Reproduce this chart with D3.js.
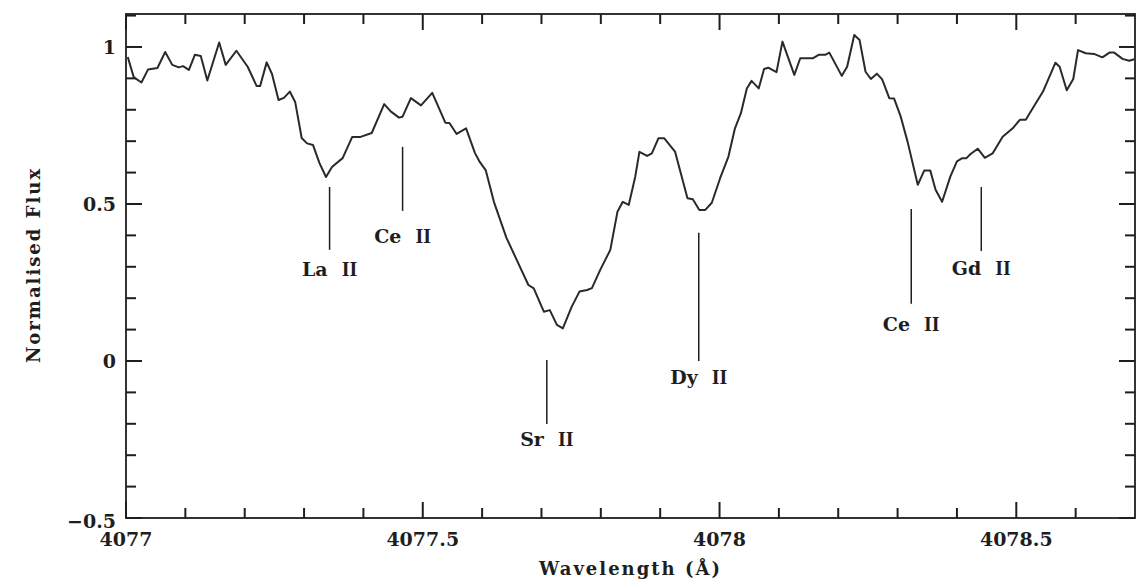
<!DOCTYPE html>
<html>
<head>
<meta charset="utf-8">
<script src="https://cdn.jsdelivr.net/npm/d3@7"></script>
<style>
  html, body { margin: 0; padding: 0; background: #fff; }
  svg { display: block; }
</style>
</head>
<body>
<svg id="chart" width="1143" height="580"></svg>
<script>
// ---- data ----
const wavelength = [
  4077.003, 4077.013, 4077.026, 4077.037, 4077.053, 4077.066, 4077.078, 4077.089, 4077.096, 4077.106,
  4077.116, 4077.126, 4077.137, 4077.157, 4077.168, 4077.186, 4077.205, 4077.220, 4077.226, 4077.237,
  4077.246, 4077.257, 4077.266, 4077.276, 4077.285, 4077.296, 4077.305, 4077.315, 4077.326, 4077.337,
  4077.347, 4077.365, 4077.381, 4077.394, 4077.414, 4077.435, 4077.446, 4077.460, 4077.466, 4077.480,
  4077.497, 4077.516, 4077.538, 4077.545, 4077.557, 4077.573, 4077.588, 4077.596, 4077.606, 4077.620,
  4077.641, 4077.660, 4077.678, 4077.687, 4077.704, 4077.714, 4077.726, 4077.736, 4077.751, 4077.764,
  4077.777, 4077.785, 4077.799, 4077.816, 4077.828, 4077.837, 4077.847, 4077.858, 4077.865, 4077.878,
  4077.886, 4077.897, 4077.907, 4077.925, 4077.946, 4077.955, 4077.966, 4077.976, 4077.987, 4078.001,
  4078.015, 4078.026, 4078.036, 4078.046, 4078.054, 4078.066, 4078.075, 4078.082, 4078.096, 4078.106,
  4078.126, 4078.136, 4078.157, 4078.167, 4078.178, 4078.185, 4078.206, 4078.215, 4078.227, 4078.236,
  4078.246, 4078.255, 4078.265, 4078.274, 4078.286, 4078.294, 4078.305, 4078.317, 4078.334, 4078.345,
  4078.355, 4078.364, 4078.375, 4078.389, 4078.400, 4078.409, 4078.416, 4078.423, 4078.435, 4078.447,
  4078.460, 4078.477, 4078.494, 4078.506, 4078.516, 4078.530, 4078.545, 4078.566, 4078.573, 4078.585,
  4078.596, 4078.604, 4078.617, 4078.631, 4078.645, 4078.657, 4078.665, 4078.679, 4078.690, 4078.699
];
const flux = [
  0.968, 0.904, 0.887, 0.928, 0.933, 0.984, 0.943, 0.935, 0.939, 0.927,
  0.975, 0.971, 0.893, 1.014, 0.943, 0.988, 0.937, 0.876, 0.876, 0.951,
  0.914, 0.831, 0.838, 0.858, 0.825, 0.710, 0.693, 0.688, 0.630, 0.586,
  0.618, 0.646, 0.713, 0.713, 0.726, 0.818, 0.795, 0.775, 0.778, 0.837,
  0.814, 0.854, 0.759, 0.758, 0.723, 0.741, 0.662, 0.634, 0.608, 0.506,
  0.392, 0.315, 0.242, 0.231, 0.157, 0.162, 0.115, 0.104, 0.173, 0.221,
  0.226, 0.232, 0.290, 0.354, 0.475, 0.507, 0.497, 0.587, 0.666, 0.653,
  0.661, 0.709, 0.709, 0.667, 0.518, 0.515, 0.481, 0.481, 0.504, 0.582,
  0.651, 0.741, 0.789, 0.868, 0.892, 0.868, 0.930, 0.934, 0.920, 1.017,
  0.911, 0.964, 0.964, 0.975, 0.975, 0.982, 0.908, 0.937, 1.038, 1.022,
  0.921, 0.898, 0.915, 0.897, 0.837, 0.836, 0.780, 0.697, 0.561, 0.607,
  0.607, 0.545, 0.507, 0.588, 0.636, 0.646, 0.646, 0.659, 0.676, 0.647,
  0.661, 0.714, 0.741, 0.768, 0.768, 0.812, 0.858, 0.950, 0.937, 0.862,
  0.898, 0.990, 0.980, 0.978, 0.967, 0.982, 0.982, 0.962, 0.956, 0.961
];

// line identifications
const ionElement = ["La", "Ce", "Sr", "Dy", "Ce", "Gd"];
const ionStage   = ["II", "II", "II", "II", "II", "II"];
const ionWave    = [4077.343, 4077.466, 4077.709, 4077.965, 4078.323, 4078.441];
const markTop    = [0.554, 0.682, 0.003, 0.408, 0.484, 0.554];
const markBottom = [0.354, 0.478, -0.201, 0.000, 0.182, 0.350];
const labelFlux  = [0.290, 0.395, -0.252, -0.054, 0.115, 0.293];

const xMajorTicks = [4077, 4077.5, 4078, 4078.5];
const xTickLabels = ["4077", "4077.5", "4078", "4078.5"];
const xMinorTicks = [4077.1, 4077.2, 4077.3, 4077.4, 4077.6, 4077.7, 4077.8, 4077.9, 4078.1, 4078.2, 4078.3, 4078.4, 4078.6];
const yMajorTicks = [-0.5, 0, 0.5, 1];
const yTickLabels = ["\u22120.5", "0", "0.5", "1"];
const yMinorTicks = [-0.4, -0.3, -0.2, -0.1, 0.1, 0.2, 0.3, 0.4, 0.6, 0.7, 0.8, 0.9, 1.1];
const xDomain = [4077, 4078.7];
const yDomain = [-0.5, 1.105];
const xLabel = "Wavelength (\u00c5)";
const yLabel = "Normalised Flux";

// ---- layout ----
const svg = d3.select("#chart");
const L = 126, R = 1135, T = 14, B = 518;
const x = d3.scaleLinear().domain(xDomain).range([L, R]);
const y = d3.scaleLinear().domain(yDomain).range([B, T]);
const ink = "#1e1e1e";
const MAJ = 16, MIN = 10;

// frame
svg.append("rect").attr("x", L).attr("y", T).attr("width", R - L).attr("height", B - T)
  .attr("fill", "none").attr("stroke", ink).attr("stroke-width", 1.8);

// ticks (inward, all four sides)
const tickG = svg.append("g");
function seg(x1, y1, x2, y2) {
  tickG.append("line")
    .attr("x1", x1).attr("y1", y1).attr("x2", x2).attr("y2", y2)
    .attr("stroke", ink).attr("stroke-width", 2);
}
xMajorTicks.forEach(v => { seg(x(v), B, x(v), B - MAJ); seg(x(v), T, x(v), T + MAJ); });
xMinorTicks.forEach(v => { seg(x(v), B, x(v), B - MIN); seg(x(v), T, x(v), T + MIN); });
yMajorTicks.forEach(v => { seg(L, y(v), L + MAJ, y(v)); seg(R, y(v), R - MAJ, y(v)); });
yMinorTicks.filter(v => v <= yDomain[1]).forEach(v => { seg(L, y(v), L + MIN, y(v)); seg(R, y(v), R - MIN, y(v)); });

// tick labels
const tickFamily = "'DejaVu Serif', serif";
svg.append("g").selectAll("text").data(xMajorTicks).join("text")
  .attr("x", d => x(d)).attr("y", B + 14).attr("dy", "0.72em")
  .attr("text-anchor", "middle")
  .attr("font-family", tickFamily).attr("font-weight", "bold")
  .attr("font-size", 19).attr("fill", ink)
  .text((d, i) => xTickLabels[i]);
svg.append("g").selectAll("text").data(yMajorTicks).join("text")
  .attr("x", L - 10).attr("y", d => y(d)).attr("dy", d => d === -0.5 ? "0.55em" : "0.36em")
  .attr("text-anchor", "end")
  .attr("font-family", tickFamily).attr("font-weight", "bold")
  .attr("font-size", 19).attr("fill", ink)
  .text((d, i) => yTickLabels[i]);

// spectrum
const pts = wavelength.map((w, i) => [w, flux[i]]);
svg.append("path")
  .datum(pts)
  .attr("fill", "none")
  .attr("stroke", "#2a2a2a")
  .attr("stroke-width", 2)
  .attr("stroke-linejoin", "round")
  .attr("d", d3.line().x(d => x(d[0])).y(d => y(d[1])));

// line markers
const marks = ionWave.map((w, i) => ({ w, top: markTop[i], bot: markBottom[i], lab: labelFlux[i], el: ionElement[i], st: ionStage[i] }));
svg.append("g").selectAll("line").data(marks).join("line")
  .attr("x1", d => x(d.w)).attr("x2", d => x(d.w))
  .attr("y1", d => y(d.top)).attr("y2", d => y(d.bot))
  .attr("stroke", ink).attr("stroke-width", 1.5);

const labs = svg.append("g").selectAll("text").data(marks).join("text")
  .attr("x", d => x(d.w)).attr("y", d => y(d.lab)).attr("dy", "0.36em")
  .attr("text-anchor", "middle").attr("fill", ink);
labs.append("tspan")
  .attr("font-family", "'DejaVu Serif', serif").attr("font-weight", "bold").attr("font-size", 19)
  .text(d => d.el);
labs.append("tspan")
  .attr("dx", 14)
  .attr("font-family", "'Liberation Serif', serif").attr("font-weight", "bold").attr("font-size", 20)
  .text(d => d.st);

// axis titles
svg.append("text")
  .attr("x", (L + R) / 2).attr("y", 575)
  .attr("text-anchor", "middle")
  .attr("font-family", "'DejaVu Serif', serif").attr("font-weight", "bold")
  .attr("font-size", 18).attr("letter-spacing", 2).attr("fill", ink)
  .text(xLabel);
svg.append("text")
  .attr("transform", `translate(40,${265}) rotate(-90)`)
  .attr("text-anchor", "middle")
  .attr("font-family", "'DejaVu Serif', serif").attr("font-weight", "bold")
  .attr("font-size", 18).attr("letter-spacing", 2).attr("fill", ink)
  .text(yLabel);
</script>
</body>
</html>
